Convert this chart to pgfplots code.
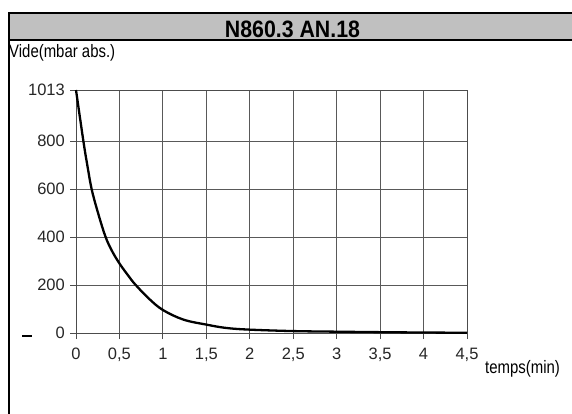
\documentclass[border=0pt]{standalone}
\usepackage{fontspec}
\setmainfont{Liberation Sans}
\newfontfamily\narrowfont[FakeStretch=0.83]{Liberation Sans}
\newfontfamily\titlefont[FakeStretch=0.9]{Liberation Sans}
\usepackage{pgfplots}
\pgfplotsset{compat=1.18}
\definecolor{titlebar}{RGB}{192,192,192}

% vacuum curve
\pgfplotstableread{
t     p
0     1013
0.085 800
0.13  700
0.18  600
0.25  505
0.336 405
0.41  345
0.5   290
0.6   240
0.68  203
0.84  143
1.0   96
1.235 56
1.5   35
1.73  21
2.0   14
2.5   8
3.0   5.5
3.5   3.5
4.0   2
4.5   1
}\vide

\begin{document}
\begin{tikzpicture}
  \useasboundingbox (0pt,0pt) rectangle (572pt,-414pt);
  % frame and title bar
  \path[fill=titlebar] (9pt,-13pt) rectangle (572pt,-40.5pt);
  \draw[line width=2pt] (8pt,-40.5pt) -- (580pt,-40.5pt);
  \draw[line width=2.3pt] (9pt,-420pt) -- (9pt,-13pt) -- (580pt,-13pt);
  \node[anchor=base, inner sep=0pt, font=\titlefont\bfseries\fontsize{23.7}{26}\selectfont]
    at (292.5pt,-37.3pt) {N860.3 AN.18};
  \node[anchor=base west, inner sep=0pt, font=\narrowfont\fontsize{18}{20}\selectfont]
    at (9pt,-58pt) {Vide(mbar abs.)};
  \node[anchor=base west, inner sep=0pt, font=\narrowfont\fontsize{18}{20}\selectfont]
    at (485pt,-373pt) {temps(min)};
  \draw[line width=2.5pt] (22pt,-336pt) -- (32pt,-336pt);

  \begin{axis}[
    at={(76pt,-333pt)}, anchor=south west,
    scale only axis,
    width=391pt, height=243pt,
    xmin=0, xmax=4.5,
    ymin=0, ymax=1013,
    xtick={0,0.5,1,1.5,2,2.5,3,3.5,4,4.5},
    xticklabels={0,{0,5},1,{1,5},2,{2,5},3,{3,5},4,{4,5}},
    ytick={0,200,400,600,800,1013},
    yticklabels={0,200,400,600,800,1013},
    tick align=outside, tick pos=left,
    major tick length=6pt,
    every tick/.style={black!70, line width=0.9pt},
    grid=major,
    major grid style={black!65, line width=0.9pt},
    axis line style={black!70, line width=0.9pt},
    tick label style={font=\fontsize{16.5}{18}\selectfont, text=black!85},
    xticklabel style={inner sep=0pt, yshift=-9pt},
    yticklabel style={inner sep=0pt, xshift=-5pt},
    clip=false,
  ]
    \addplot[black, line width=2.3pt, smooth, tension=0.6] table[x=t, y=p] {\vide};
  \end{axis}
\end{tikzpicture}
\end{document}
